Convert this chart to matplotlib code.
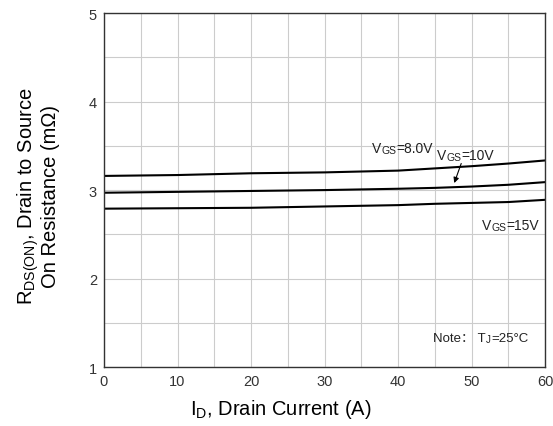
import matplotlib
matplotlib.use("Agg")
import matplotlib.pyplot as plt
import numpy as np

plt.rcParams["font.family"] = ["Liberation Sans", "DejaVu Sans"]
plt.rcParams["mathtext.fontset"] = "custom"
plt.rcParams["mathtext.rm"] = "Liberation Sans"

# ── Data ─────────────────────────────────────────────────────────────
current = [0, 10, 20, 30, 40, 45, 50, 55, 60]
rds_8v = [3.16, 3.17, 3.19, 3.20, 3.22, 3.245, 3.27, 3.30, 3.335]
rds_10v = [2.97, 2.98, 2.99, 3.00, 3.015, 3.025, 3.04, 3.06, 3.09]
rds_15v = [2.79, 2.795, 2.80, 2.815, 2.83, 2.845, 2.855, 2.865, 2.89]

x_ticks = [0, 10, 20, 30, 40, 50, 60]
y_ticks = [1, 2, 3, 4, 5]

fig = plt.figure(figsize=(5.53, 4.27), dpi=100)
ax = fig.add_axes([0.188, 0.138, 0.798, 0.829])

ax.set_xlim(0, 60)
ax.set_ylim(1, 5)
ax.set_xticks(x_ticks)
ax.set_yticks(y_ticks)
ax.set_xticks(np.arange(0, 61, 5), minor=True)
ax.set_yticks(np.arange(1, 5.01, 0.5), minor=True)
ax.grid(True, which="both", color="#cccccc", linewidth=0.8)
ax.set_axisbelow(True)
ax.tick_params(which="both", length=0, labelsize=10.5, labelcolor="#333333")
ax.tick_params(axis="x", pad=5)
ax.tick_params(axis="y", pad=5)
for s in ax.spines.values():
    s.set_color("#333333")
    s.set_linewidth(1.0)

for vals in (rds_8v, rds_10v, rds_15v):
    ax.plot(current, vals, color="black", linewidth=1.5)


def vgs_label(x, y, rest, size=10):
    # "V" + small "GS" + rest, chained on the previous text's bbox
    t1 = ax.text(x, y, "V", fontsize=size, va="bottom", color="#222222")
    t2 = ax.annotate("GS", xy=(1, 0), xycoords=t1, fontsize=size * 0.75,
                     va="bottom", color="#222222")
    ax.annotate(rest, xy=(1, 0), xycoords=t2, fontsize=size,
                va="bottom", color="#222222")


vgs_label(36.5, 3.40, "=8.0V")
vgs_label(45.3, 3.32, "=10V")
vgs_label(51.4, 2.525, "=15V")

ax.annotate("", xy=(47.5, 3.05), xytext=(48.7, 3.33),
            arrowprops=dict(arrowstyle="-|>", color="black", lw=0.8,
                            mutation_scale=8))

tn = ax.text(44.8, 1.26, "Note\uff1a T", fontsize=9.5, va="bottom",
             color="#222222",
             family=["Liberation Sans", "Noto Sans CJK SC", "DejaVu Sans"])
tj = ax.annotate("J", xy=(1, 0), xycoords=tn, fontsize=7, va="bottom",
                 color="#222222")
ax.annotate("=25\u00b0C", xy=(1, 0), xycoords=tj, fontsize=9.5, va="bottom",
            color="#222222")

ax.set_xlabel(r"I$_\mathregular{D}$, Drain Current (A)", fontsize=14.5)
ax.xaxis.set_label_coords(0.401, -0.085)
ax.set_ylabel("R$_\\mathregular{DS(ON)}$, Drain to Source\nOn Resistance (m\u03a9)",
              fontsize=14.5, linespacing=1.0)
ax.yaxis.set_label_coords(-0.10, 0.486)

fig.savefig("out.png", dpi=100)
